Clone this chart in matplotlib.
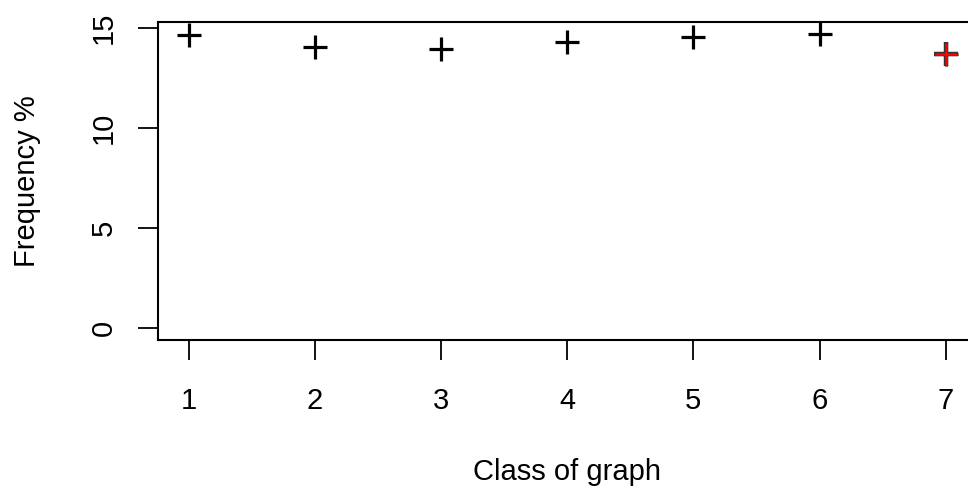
import matplotlib
matplotlib.use('Agg')
import matplotlib.pyplot as plt

# Data
classes = [1, 2, 3, 4, 5, 6, 7]
freq = [14.64, 14.05, 13.97, 14.29, 14.55, 14.72, 13.69]
highlight = 6  # index of the red point
yticks = [0, 5, 10, 15]

plt.rcParams['font.family'] = ['Liberation Sans', 'DejaVu Sans']

fig = plt.figure(figsize=(9.68, 4.93), dpi=100)
W, H = 968, 493
ax = fig.add_axes([158.3 / W, 1 - 340 / H, (976 - 158.3) / W, (340 - 21.7) / H])

ax.set_xlim(0.76, 7.24)
ax.set_ylim(-0.59, 15.31)

ax.plot(classes, freq, linestyle='none', marker='+', markersize=17,
        markeredgewidth=2.3, color='black', clip_on=False)
ax.plot(classes[highlight], freq[highlight], marker='+', markersize=17,
        markeredgewidth=3.2, color='#333333', clip_on=False)
ax.plot(classes[highlight], freq[highlight], marker='+', markersize=16,
        markeredgewidth=1.8, color='red', clip_on=False)

for s in ax.spines.values():
    s.set_linewidth(1.5)

ax.set_xticks(classes)
ax.set_yticks(yticks)
ax.set_xticklabels([str(c) for c in classes])
ax.set_yticklabels([str(t) for t in yticks], rotation=90, va='center')
ax.tick_params(axis='both', length=14.4, width=1.3, labelsize=21, direction='out')
ax.tick_params(axis='x', pad=19.5)
ax.tick_params(axis='y', pad=15)

ax.set_xlabel('Class of graph', fontsize=21, labelpad=31)
ax.set_ylabel('Frequency %', fontsize=21, labelpad=35)

fig.savefig('out.png', dpi=100)
